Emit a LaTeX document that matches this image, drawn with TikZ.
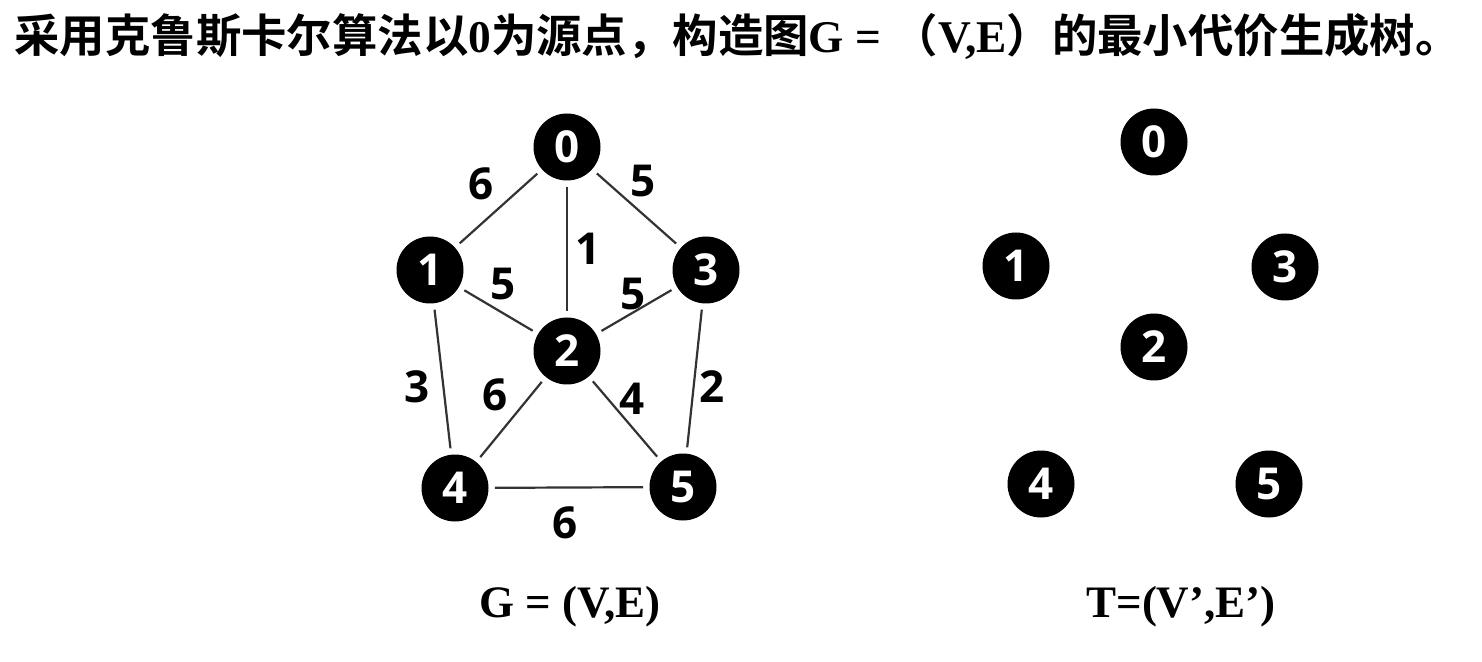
\documentclass[tikz,border=0pt]{standalone}
\usepackage{fontspec}
\setmainfont{Liberation Serif}
\newfontfamily\cjk{Noto Sans CJK SC}[BoldFont={Noto Sans CJK SC Bold}]
\newfontfamily\numfont{Open Sans}
\begin{document}
\begin{tikzpicture}[x=0.5pt,y=-0.5pt,
  vtx/.style={circle,fill=black,minimum size=33.5pt,inner sep=0pt,text=white,font=\numfont\bfseries\fontsize{22}{22}\selectfont},
  wt/.style={inner sep=0pt,font=\numfont\bfseries\fontsize{22}{22}\selectfont},
  edg/.style={draw=black!80,line width=1.1pt,shorten >=3pt,shorten <=3pt},
  captext/.style={inner sep=0pt,font=\bfseries\fontsize{22.5}{22.5}\selectfont}]
\useasboundingbox[fill=white] (0,0) rectangle (1482,662);
% title
\node[anchor=base west,inner sep=0pt,font=\fontsize{22.7}{22.7}\selectfont] (title) at (14,53)
 {{\cjk\bfseries 采用克鲁斯卡尔算法以}{\bfseries 0}{\cjk\bfseries 为源点，构造图}{\bfseries G = }{\cjk\bfseries （}{\bfseries V,E}{\cjk\bfseries ）的最小代价生成树。}};
% graph G
\node[vtx] (a0) at (567,147) {0};
\node[vtx] (a1) at (430,270) {1};
\node[vtx] (a3) at (706,270) {3};
\node[vtx] (a2) at (567,351) {2};
\node[vtx] (a4) at (455,488) {4};
\node[vtx] (a5) at (683,487) {5};
\draw[edg] (a0) -- (a1);
\draw[edg] (a0) -- (a2);
\draw[edg] (a0) -- (a3);
\draw[edg] (a1) -- (a2);
\draw[edg] (a2) -- (a3);
\draw[edg] (a1) -- (a4);
\draw[edg] (a2) -- (a4);
\draw[edg] (a2) -- (a5);
\draw[edg] (a3) -- (a5);
\draw[edg] (a4) -- (a5);
\node[wt] (w01) at (481,184) {6};
\node[wt] (w03) at (643,181) {5};
\node[wt] (w02) at (588,249) {1};
\node[wt] (w12) at (503,284) {5};
\node[wt] (w23) at (633,294) {5};
\node[wt] (w14) at (417,387) {3};
\node[wt] (w24) at (495,395) {6};
\node[wt] (w25) at (632,399) {4};
\node[wt] (w35) at (712,387) {2};
\node[wt] (w45) at (565,523) {6};
\node[captext] (capG) at (570,607) {G = (V,E)};
% tree T
\node[vtx] (b0) at (1154,142) {0};
\node[vtx] (b1) at (1016,266) {1};
\node[vtx] (b3) at (1285,267) {3};
\node[vtx] (b2) at (1154,347) {2};
\node[vtx] (b4) at (1041,484) {4};
\node[vtx] (b5) at (1269,484) {5};
\node[captext] (capT) at (1181,607) {T=(V’,E’)};
\end{tikzpicture}
\end{document}
